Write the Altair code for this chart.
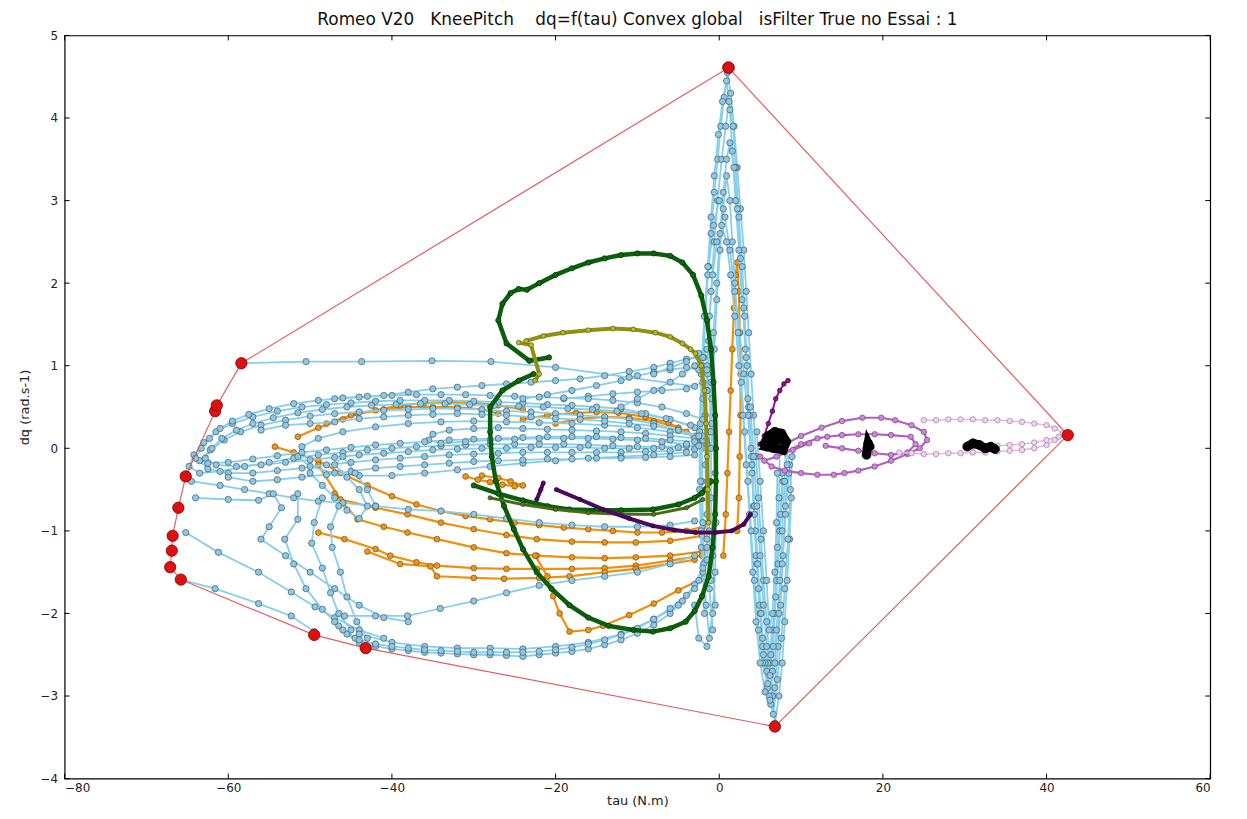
import altair as alt
import pandas as pd

# ---------------- data ----------------
x_ticks = [-80, -60, -40, -20, 0, 20, 40, 60]
y_ticks = [-4, -3, -2, -1, 0, 1, 2, 3, 4, 5]

# light blue trajectories: vertical spikes near tau = 0 .. 9
b1_t = [-1.2,-1.6,-1.9,-2.0,-2.1,-2.1,-2.0,-1.9,-1.7,-1.4,-1.0,-0.6,-0.2,0.2,0.6,1.0,1.4,1.8,2.2,2.6,3.0,3.3,3.6,3.9,4.2,4.5,4.8,5.1,5.4,5.8,6.2,6.5,6.8,7.3,7.7,8.0,8.3,8.6,8.8,8.6,8.0]
b1_d = [-2.3,-1.9,-1.4,-0.9,-0.4,0.1,0.6,1.1,1.6,2.1,2.6,3.1,3.5,3.9,4.25,4.55,4.3,3.9,3.4,2.9,2.4,1.9,1.4,0.9,0.4,-0.1,-0.6,-1.1,-1.6,-2.1,-2.6,-3.0,-3.33,-3.0,-2.6,-2.1,-1.6,-1.1,-0.6,-0.2,0.05]
b2_t = [-0.8,-1.2,-1.5,-1.6,-1.6,-1.5,-1.3,-1.0,-0.6,-0.2,0.3,0.8,1.2,1.7,2.0,2.4,2.8,3.1,3.4,3.7,4.0,4.3,4.6,5.0,5.4,5.9,6.3,6.8,7.2,7.5,7.8,8.1,8.3,7.6]
b2_d = [-2.2,-1.7,-1.1,-0.5,0.1,0.7,1.3,1.9,2.5,3.0,3.5,3.9,4.2,3.9,3.4,2.8,2.2,1.6,1.0,0.4,-0.2,-0.8,-1.4,-2.0,-2.5,-2.9,-3.1,-2.9,-2.4,-1.9,-1.3,-0.7,-0.2,0.1]
b3_t = [-1.0,-1.2,-1.3,-1.2,-1.0,-0.7,-0.3,0.1,0.5,0.9,1.3,1.8,2.2,2.6,3.0,3.3,3.6,3.9,4.2,4.5,4.9,5.3,5.8,6.3,6.8,7.2,7.5,7.7]
b3_d = [-1.6,-1.0,-0.4,0.2,0.8,1.4,2.0,2.6,3.1,3.5,3.7,3.4,2.9,2.3,1.7,1.1,0.5,-0.1,-0.7,-1.3,-1.9,-2.4,-2.7,-2.5,-2.0,-1.4,-0.8,-0.3]
b4_t = [-2.2,-2.4,-2.4,-2.2,-1.8,-1.3,-0.7,0.0,0.7,1.3,1.9,2.5,3.0,3.5,4.0,4.4,4.8,5.3,5.9,6.5,7.0,7.4,7.8]
b4_d = [-1.2,-0.5,0.2,0.9,1.6,2.2,2.7,3.0,2.8,2.4,1.9,1.4,0.9,0.4,-0.3,-1.0,-1.7,-2.3,-2.6,-2.2,-1.6,-1.0,-0.4]
b5_t = [-3.0,-2.5,-1.5,-0.8,-0.5,-0.4,-0.5,-0.9,-1.4]
b5_d = [-1.9,-2.3,-2.4,-2.0,-1.5,-0.9,-0.3,0.3,0.9]
b6_t = [-1.8,-2.0,-2.2,-2.3,-2.3,-2.1,-1.8,-1.4,-1.0,-0.6,-0.1,0.4,0.9,1.3,1.6,2.0,2.4,2.8,3.2,3.5,3.9,4.3,4.7,5.1,5.6,6.1,6.6,7.1,7.6,8.0,8.4,8.7,8.9]
b6_d = [-2.0,-1.5,-1.0,-0.4,0.3,1.0,1.6,2.2,2.8,3.3,3.8,4.2,4.45,4.1,3.6,3.0,2.4,1.8,1.2,0.6,0.0,-0.7,-1.4,-2.0,-2.6,-3.0,-3.22,-2.8,-2.3,-1.7,-1.1,-0.5,-0.1]
b7_t = [-0.5,-0.8,-1.0,-1.0,-0.9,-0.6,-0.3,0.1,0.5,0.9,1.3,1.6,1.9,2.3,2.7,3.1,3.5,3.9,4.3,4.8,5.3,5.9,6.5,7.0,7.4,7.7,8.0,8.2]
b7_d = [-1.9,-1.3,-0.6,0.0,0.6,1.2,1.8,2.4,2.9,3.3,3.0,2.5,2.0,1.4,0.8,0.2,-0.4,-1.0,-1.6,-2.2,-2.6,-2.85,-2.7,-2.2,-1.6,-1.0,-0.4,0.1]
b8_t = [-1.5,-1.7,-1.7,-1.5,-1.2,-0.8,-0.3,0.3,0.9,1.4,1.9,2.4,2.9,3.3,3.7,4.1,4.5,5.0,5.6,6.2,6.8,7.3,7.7,8.1,8.5]
b8_d = [-0.8,-0.2,0.4,1.0,1.6,2.1,2.5,2.7,2.5,2.1,1.6,1.0,0.4,-0.2,-0.8,-1.5,-2.1,-2.6,-2.95,-3.05,-2.6,-2.0,-1.4,-0.8,-0.3]
b9_t = [3.8,4.2,4.6,5.0,5.4,5.8,6.2,6.6,6.9,7.1,7.3,7.4]
b9_d = [0.5,-0.1,-0.7,-1.3,-1.9,-2.4,-2.75,-2.4,-1.8,-1.2,-0.6,0.0]
b10_t = [4.6,5.0,5.4,5.8,6.1,6.5,6.8,7.0,7.1]
b10_d = [0.2,-0.4,-1.0,-1.6,-2.2,-2.0,-1.5,-0.9,-0.3]

# light blue: large horizontal loops
h1_t = [-3,-6,-9,-12,-15,-18,-21,-24,-27,-30,-33,-36,-39,-42,-45,-48,-51,-54,-57,-59.5,-61.5,-63,-64.2,-64.8,-63.5,-61,-58,-55,-52,-49,-46,-43,-40,-37,-34,-31,-28,-25,-22,-19,-16,-13,-10,-7,-4,-1.5]
h1_d = [0.25,0.35,0.42,0.48,0.5,0.52,0.53,0.55,0.56,0.57,0.58,0.58,0.58,0.57,0.55,0.53,0.5,0.45,0.38,0.3,0.2,0.07,-0.08,-0.22,-0.3,-0.28,-0.22,-0.17,-0.12,-0.08,-0.05,-0.02,0.0,0.02,0.03,0.04,0.05,0.05,0.05,0.05,0.04,0.03,0.02,0.02,0.03,0.05]
h2_t = [-2,-5,-8,-11,-14,-17,-20,-23,-26,-29,-32,-35,-38,-41,-44,-47,-50,-53,-56,-58.5,-60.5,-62.2,-63.5,-62.5,-60,-57,-54,-51,-48,-45,-42,-39,-36,-33,-30,-27,-24,-21,-18,-15,-12,-9,-6,-3]
h2_d = [0.1,0.22,0.3,0.35,0.38,0.4,0.42,0.44,0.45,0.47,0.48,0.48,0.47,0.46,0.44,0.42,0.39,0.34,0.28,0.2,0.1,-0.02,-0.15,-0.25,-0.3,-0.3,-0.27,-0.24,-0.2,-0.17,-0.14,-0.12,-0.1,-0.08,-0.07,-0.06,-0.05,-0.05,-0.05,-0.05,-0.05,-0.04,-0.03,-0.01]
h3_t = [-2,-6,-10,-14,-18,-22,-26,-30,-34,-38,-42,-46,-49,-51,-51.5,-50,-47,-44,-40,-36,-32,-28,-24,-20,-16,-12,-8,-4]
h3_d = [0.15,0.2,0.25,0.28,0.3,0.31,0.32,0.33,0.32,0.3,0.26,0.2,0.12,0.02,-0.1,-0.22,-0.3,-0.33,-0.33,-0.3,-0.26,-0.22,-0.18,-0.15,-0.12,-0.1,-0.08,-0.05]
h4_t = [-3,-6,-9,-12,-15,-18,-21,-24,-27,-30,-33,-35,-35.5,-34,-31,-28,-25,-22,-19,-16,-13,-10,-7,-4]
h4_d = [0.12,0.15,0.18,0.2,0.21,0.22,0.23,0.24,0.25,0.24,0.22,0.17,0.1,0.06,0.08,0.1,0.11,0.12,0.12,0.12,0.11,0.1,0.08,0.05]
h5_t = [-47,-44,-41,-38,-35,-32,-29,-26,-23,-20,-17,-14,-11,-8,-6,-4,-2.5,-1.5,-1.5]
h5_d = [0.6,0.62,0.64,0.68,0.72,0.74,0.76,0.78,0.8,0.82,0.84,0.88,0.93,0.98,1.03,1.08,1.1,0.95,0.7]
h6_t = [-24,-21,-18,-15,-12,-10,-8,-6,-4,-2.5,-2,-4,-7,-10,-13,-16,-19]
h6_d = [0.6,0.65,0.7,0.76,0.82,0.88,0.92,0.95,0.98,0.95,0.8,0.72,0.7,0.68,0.66,0.63,0.6]
h7_t = [-58.4,-50.5,-43.7,-35.1,-27.9,-20,-11,-3]
h7_d = [1.03,1.05,1.05,1.06,1.05,0.98,0.86,0.75]
h8_t = [-2,-4,-7,-10,-13,-16,-19,-22,-25,-28,-31,-34,-37,-40,-43,-46,-49,-52,-55,-57.5,-59.5,-61,-62.3,-63.3,-64,-62.5,-60,-57,-54,-51,-48,-45,-42,-39,-36,-33,-30,-27,-24,-21,-18,-15,-12,-9,-6,-3]
h8_d = [0.35,0.42,0.5,0.55,0.58,0.6,0.61,0.62,0.63,0.64,0.65,0.65,0.65,0.64,0.63,0.61,0.58,0.54,0.48,0.41,0.33,0.24,0.12,0.0,-0.12,-0.18,-0.17,-0.13,-0.09,-0.05,-0.02,0.01,0.04,0.06,0.08,0.1,0.11,0.12,0.13,0.14,0.14,0.14,0.13,0.12,0.1,0.08]
h9_t = [-1,-3.5,-6.5,-9.5,-12.5,-15.5,-18.5,-21.5,-24.5,-27.5,-30.5,-33.5,-36.5,-39.5,-42.5,-45.5,-48.5,-51.5,-54.5,-57,-59,-60.8,-62,-62.8,-61.5,-59,-56,-53,-50,-47,-44,-41,-38,-35,-32,-29,-26,-23,-20,-17,-14,-11,-8,-5,-2.5]
h9_d = [0.2,0.28,0.36,0.42,0.45,0.47,0.48,0.5,0.51,0.52,0.53,0.54,0.54,0.53,0.52,0.5,0.47,0.43,0.37,0.3,0.22,0.12,0.0,-0.12,-0.2,-0.22,-0.2,-0.17,-0.14,-0.11,-0.08,-0.06,-0.04,-0.02,-0.01,0.0,0.0,0.01,0.01,0.01,0.0,0.0,0.0,0.01,0.03]
h10_t = [-60,-57,-54,-51,-48,-45,-42,-39,-36,-33,-30,-27,-24,-21,-18,-15,-12,-9,-6,-3]
h10_d = [-0.35,-0.4,-0.38,-0.35,-0.32,-0.28,-0.24,-0.22,-0.2,-0.18,-0.16,-0.15,-0.14,-0.13,-0.13,-0.12,-0.12,-0.11,-0.1,-0.08]
h11_t = [-56,-53,-50,-47,-44,-41,-38,-35,-32,-29,-26,-23,-20,-17,-14,-11,-8,-5,-2.5]
h11_d = [0.22,0.28,0.3,0.32,0.36,0.38,0.4,0.41,0.42,0.41,0.4,0.38,0.36,0.35,0.33,0.3,0.27,0.22,0.15]
h12_t = [-12,-10,-8,-6,-4.5,-3,-2,-1.5,-2.5,-4,-6,-8]
h12_d = [0.5,0.6,0.7,0.8,0.9,1.0,1.1,1.2,1.15,1.05,0.98,0.9]

# light blue: sparse lines and lower loops
s1_t = [-64.5,-61,-58,-55,-52,-49,-46,-42,-38,-34,-30,-26,-22,-18,-14,-10,-6,-3]
s1_d = [-0.4,-0.45,-0.5,-0.55,-0.6,-0.64,-0.66,-0.7,-0.74,-0.76,-0.8,-0.85,-0.9,-0.93,-0.95,-0.95,-0.93,-0.88]
s2_t = [-64,-60,-56.3,-54.5,-53.5,-55,-56,-53,-50,-47,-44,-41,-38]
s2_d = [-0.6,-0.62,-0.63,-0.55,-0.72,-0.95,-1.1,-1.3,-1.5,-1.7,-1.9,-2.05,-2.1]
s3_t = [-65.2,-61.2,-56.3,-52.3,-49.4,-47,-44,-41]
s3_d = [-1.02,-1.26,-1.5,-1.74,-1.92,-2.05,-2.2,-2.3]
s4_t = [-65.8,-61.6,-56.3,-52.3,-49.5]
s4_d = [-1.59,-1.7,-1.88,-2.03,-2.22]
s5_t = [-51.5,-51.5,-53.1,-52,-50.5,-48.5,-46.5,-44.5]
s5_d = [-0.55,-0.86,-1.1,-1.4,-1.7,-1.95,-2.15,-2.3]
s6_t = [-48.5,-49.5,-49.8,-48.5,-47.5,-46.5,-45]
s6_d = [-0.6,-0.9,-1.15,-1.45,-1.75,-2.0,-2.2]
s7_t = [-46.5,-47.5,-47.3,-46.3,-45.5,-44.3,-43]
s7_d = [-0.7,-0.95,-1.2,-1.5,-1.8,-2.1,-2.3]
bb1_t = [-47,-45.5,-44,-42,-40,-38,-36,-34,-32,-30,-28,-26,-24,-22,-20,-18,-16,-14,-12,-10,-8,-6,-4.5,-3,-2,-1.5]
bb1_d = [-2.1,-2.25,-2.35,-2.4,-2.43,-2.45,-2.47,-2.48,-2.49,-2.5,-2.5,-2.51,-2.52,-2.5,-2.48,-2.46,-2.43,-2.38,-2.32,-2.24,-2.14,-2.0,-1.85,-1.65,-1.45,-1.2]
bb2_t = [-44,-40,-36,-32,-28,-24,-20,-16,-12,-8,-5,-3]
bb2_d = [-2.25,-2.35,-2.4,-2.42,-2.42,-2.43,-2.4,-2.35,-2.25,-2.07,-1.9,-1.7]
bb3_t = [-45.8,-42,-38.1,-34.1,-30,-26,-22,-18,-14,-10,-6,-3]
bb3_d = [-2.03,-2.03,-2.03,-1.94,-1.85,-1.75,-1.66,-1.6,-1.55,-1.5,-1.4,-1.3]
bb4_t = [-46,-44,-42,-40,-38,-36,-34,-32,-30,-28,-26,-24,-22,-20,-18,-16,-14,-12,-10,-8,-6,-4,-2.5,-1.5]
bb4_d = [-2.2,-2.32,-2.37,-2.4,-2.42,-2.44,-2.45,-2.46,-2.47,-2.47,-2.47,-2.47,-2.46,-2.44,-2.41,-2.37,-2.32,-2.26,-2.18,-2.07,-1.94,-1.78,-1.6,-1.35]
bc_t = [-50,-48.5,-47,-45.5,-44,-43,-44,-45.5,-47,-46,-44.5,-43,-42]
bc_d = [-0.3,-0.45,-0.6,-0.75,-0.85,-0.7,-0.5,-0.35,-0.2,-0.1,-0.3,-0.5,-0.7]

# orange trajectories
o1_t = [-51.5,-49,-46,-44.2,-41,-38,-35,-32,-29,-27]
o1_d = [0.14,0.25,0.35,0.42,0.47,0.5,0.5,0.5,0.47,0.42]
o2_t = [-24,-21,-17.5,-15,-12.3,-9,-6.2,-4,-2.9,-2]
o2_d = [0.35,0.4,0.43,0.44,0.43,0.38,0.31,0.2,0.1,0.0]
o3_t = [-54.3,-52,-49,-46.3,-43,-40,-37,-34,-31,-28,-25,-22,-19,-16,-13,-10,-7,-4,-2]
o3_d = [0.02,-0.05,-0.15,-0.3,-0.45,-0.58,-0.68,-0.76,-0.82,-0.86,-0.9,-0.93,-0.96,-0.98,-1.0,-1.02,-1.02,-1.0,-0.95]
o4_t = [-49,-46.3,-42,-38.1,-34,-30,-26,-22.3,-18,-14,-10.2,-6,-2.1]
o4_d = [-0.2,-0.62,-0.72,-0.8,-0.9,-0.98,-1.05,-1.1,-1.13,-1.14,-1.14,-1.12,-1.06]
o5_t = [-47,-44.2,-41,-38.1,-34.5,-30,-26,-22.3,-18,-14,-10.2,-6,-2.1]
o5_d = [-0.55,-0.86,-0.95,-1.02,-1.1,-1.2,-1.27,-1.3,-1.32,-1.33,-1.32,-1.3,-1.25]
o6_t = [-49,-45.8,-42,-40.2,-37,-34.5,-30,-26,-22.3,-18,-14,-10.2,-6,-2.1]
o6_d = [-1.02,-1.1,-1.22,-1.3,-1.38,-1.42,-1.45,-1.46,-1.46,-1.46,-1.45,-1.42,-1.36,-1.3]
o7_t = [-43,-39,-35.3,-34.5,-30,-26.3,-22,-18.3,-14,-10.2,-6,-3]
o7_d = [-1.25,-1.4,-1.43,-1.55,-1.57,-1.58,-1.57,-1.55,-1.5,-1.46,-1.4,-1.35]
o8_t = [-31,-29.5,-28,-26.5,-25,-24,-25.5,-27,-29]
o8_d = [-0.34,-0.38,-0.41,-0.44,-0.46,-0.45,-0.4,-0.36,-0.33]
o9_t = [-22.5,-21,-20.3,-19.5,-18.3,-16,-14.2,-11,-8,-5,-2.1]
o9_d = [-1.3,-1.55,-1.79,-2.0,-2.22,-2.2,-2.15,-2.02,-1.88,-1.72,-1.58]
o10_t = [0.5,0.8,1.0,1.2,1.4,1.6,1.8,2.0,2.2,2.4,2.5,2.6,2.6,2.5,2.4,2.2]
o10_d = [-1.3,-0.8,-0.3,0.2,0.7,1.2,1.7,2.1,2.25,1.9,1.4,0.9,0.4,-0.1,-0.6,-1.0]
o11_t = [-48,-45,-42,-39,-36,-33,-30,-27,-24]
o11_d = [0.3,0.4,0.46,0.52,0.55,0.56,0.55,0.52,0.47]
o12_t = [-20,-17,-14,-11,-8,-5,-3]
o12_d = [0.3,0.36,0.38,0.37,0.33,0.25,0.15]

# dark green
g1_t = [-20.8,-23.2,-26,-27,-26.5,-25.5,-24.5,-23.5,-22,-20,-18,-16,-14,-12,-10,-8,-6,-4.5,-3.2,-2.2,-1.5,-1.0,-0.7,-0.5,-0.4,-0.4,-0.5,-0.8,-1.3,-2.1,-3,-4.1,-6,-8.1,-10.5,-13.5,-16,-18.3,-20.5,-22.3,-24,-25.1,-26.3,-27.3,-27.8,-28,-28,-26.5,-24.5,-22.7]
g1_d = [1.1,1.06,1.27,1.55,1.75,1.88,1.93,1.92,2.0,2.1,2.18,2.25,2.3,2.34,2.36,2.36,2.33,2.25,2.1,1.85,1.55,1.2,0.8,0.4,0.0,-0.4,-0.8,-1.2,-1.55,-1.79,-1.97,-2.1,-2.18,-2.22,-2.2,-2.15,-2.05,-1.9,-1.7,-1.5,-1.22,-0.98,-0.7,-0.4,-0.1,0.2,0.5,0.7,0.82,0.9]
g2_t = [-30,-27,-24,-21,-18.3,-15,-12,-8.1,-5,-3,-2.1,-1]
g2_d = [-0.45,-0.55,-0.63,-0.7,-0.74,-0.75,-0.75,-0.74,-0.68,-0.6,-0.54,-0.4]
g3_t = [-28,-24,-20,-16,-12,-8,-4,-2]
g3_d = [-0.6,-0.68,-0.74,-0.78,-0.8,-0.8,-0.72,-0.62]

# olive / yellow-green
l1_t = [-23.6,-21.5,-19.1,-16,-13,-10.5,-7.8,-6,-4.5,-3.5,-2.9,-2.2,-1.8,-1.6,-1.5,-1.4,-1.3]
l1_d = [1.3,1.36,1.4,1.43,1.45,1.44,1.4,1.35,1.27,1.2,1.15,1.0,0.7,0.3,-0.1,-0.5,-0.9]
l2_t = [-24.5,-23,-22,-22.5]
l2_d = [1.28,1.25,0.9,0.82]

# purple
p1_t = [-22.3,-21.8,-21.5]
p1_d = [-0.62,-0.5,-0.42]
p2_t = [-19.9,-17,-14.2,-11,-8.1,-5.5,-2.9,-0.5,1.5,3,3.8]
p2_d = [-0.5,-0.62,-0.74,-0.85,-0.94,-0.99,-1.02,-1.02,-1.0,-0.92,-0.8]
p3_t = [5.0,5.5,6.0,6.5,6.9,7.4,7.9,8.4]
p3_d = [0.05,0.15,0.3,0.45,0.6,0.7,0.78,0.82]

# orchid loops
c1_t = [5,6.4,8,10,12,14,15.3,17,19,21,23,24.5,25.4,25,23.5,21.5,19.8,17.5,15,12.5,10,8,6.5]
c1_d = [-0.1,-0.22,-0.27,-0.3,-0.32,-0.32,-0.3,-0.27,-0.22,-0.15,-0.07,0.0,0.1,0.2,0.28,0.34,0.37,0.37,0.33,0.25,0.15,0.05,-0.02]
c2_t = [8,10,12,13.2,15,17,19,21,23.4,24,23,21,19,17,15,13]
c2_d = [-0.05,0.05,0.12,0.14,0.16,0.17,0.17,0.16,0.14,0.05,-0.05,-0.08,-0.06,-0.03,0.0,0.03]
c3_t = [5.5,7,9,11]
c3_d = [-0.15,-0.1,-0.02,0.06]

# plum
m1_t = [25,26.5,28,29.5,31,32.5,34,35.5,37,38.5,40,41,42,41,40,38.5,37,35.5,34,32.5,31,29.5,28,26.5,25,23.5,22]
m1_d = [0.34,0.34,0.35,0.35,0.35,0.34,0.34,0.33,0.32,0.3,0.28,0.24,0.18,0.1,0.04,0.0,-0.02,-0.03,-0.04,-0.05,-0.05,-0.06,-0.06,-0.07,-0.07,-0.06,-0.05]
m2_t = [41.5,40,38.5,37,35.5,34,32.5,31]
m2_d = [0.14,0.1,0.07,0.05,0.04,0.03,0.02,0.02]

# black
k1_t = [5.5,6,6.8,7.6,8.2,7.8,6.8,5.8,6.5,7.2]
k1_d = [0.05,0.15,0.2,0.18,0.08,-0.02,0.0,0.02,0.1,0.1]
k2_t = [18.0,18.1,18.2,18.4]
k2_d = [-0.08,0.0,0.06,0.02]
k3_t = [30.3,31,31.8,32.5,33.2,33.7]
k3_d = [0.02,0.06,0.04,0.0,0.02,-0.01]

# convex hull
hull_t = [1.13,42.6,6.8,-43.2,-49.5,-65.8,-67.1,-66.9,-66.8,-66.1,-65.2,-61.6,-61.4,-58.4,1.13]
hull_d = [4.61,0.16,-3.37,-2.42,-2.26,-1.59,-1.44,-1.24,-1.06,-0.72,-0.34,0.45,0.52,1.03,4.61]

TITLE = "Romeo V20   KneePitch    dq=f(tau) Convex global   isFilter True no Essai : 1".replace(" ", "\u00a0")

# ---------------- build ----------------
XS = alt.Scale(domain=[-80, 60], nice=False, zero=False)
YS = alt.Scale(domain=[-4, 5], nice=False, zero=False)

def frame(trajs):
    rows = []
    for k, (ts, ds) in enumerate(trajs):
        for i, (t, d) in enumerate(zip(ts, ds)):
            rows.append({"traj": k, "i": i, "tau": t, "dq": d})
    return pd.DataFrame(rows)

def series(trajs, line_color, fill, edge, lw=1.5, size=30, sw=0.7, op=1.0):
    df = frame(trajs)
    base = alt.Chart(df).encode(
        x=alt.X("tau:Q", scale=XS),
        y=alt.Y("dq:Q", scale=YS),
    )
    ln = base.mark_line(color=line_color, strokeWidth=lw, opacity=op).encode(
        detail="traj:N", order="i:Q")
    pt = base.mark_point(shape="circle", filled=True, fill=fill, stroke=edge,
                         strokeWidth=sw, size=size, opacity=op)
    return [ln, pt]

layers = []
layers += series([(o1_t,o1_d),(o2_t,o2_d),(o3_t,o3_d),(o4_t,o4_d),(o5_t,o5_d),(o6_t,o6_d),
                  (o7_t,o7_d),(o8_t,o8_d),(o9_t,o9_d),(o10_t,o10_d),(o11_t,o11_d),(o12_t,o12_d)],
                 "#f0900c", "#e8961e", "#7a5010", lw=2.2, size=34)
layers += series([(b1_t,b1_d),(b2_t,b2_d),(b3_t,b3_d),(b4_t,b4_d),(b5_t,b5_d),(b6_t,b6_d),
                  (b7_t,b7_d),(b8_t,b8_d),(b9_t,b9_d),(b10_t,b10_d),
                  (h1_t,h1_d),(h2_t,h2_d),(h3_t,h3_d),(h4_t,h4_d),(h5_t,h5_d),(h6_t,h6_d),(h7_t,h7_d),
                  (h8_t,h8_d),(h9_t,h9_d),(h10_t,h10_d),(h11_t,h11_d),(h12_t,h12_d),
                  (s1_t,s1_d),(s2_t,s2_d),(s3_t,s3_d),(s4_t,s4_d),(s5_t,s5_d),(s6_t,s6_d),(s7_t,s7_d),
                  (bb1_t,bb1_d),(bb2_t,bb2_d),(bb3_t,bb3_d),(bb4_t,bb4_d),(bc_t,bc_d)],
                 "#87ceeb", "#8fc8e0", "#3c5a6a", lw=1.8, size=40)
layers += series([(g1_t,g1_d),(g2_t,g2_d)], "#0b5e0b", "#0b6a0b", "#033003", lw=4.5, size=28)
layers += series([(g3_t,g3_d)], "#4a6a1a", "#557a20", "#2a3a0a", lw=3, size=18)
layers += series([(l1_t,l1_d),(l2_t,l2_d)], "#8f9015", "#b8b828", "#5a5a08", lw=4, size=24)
layers += series([(p1_t,p1_d),(p2_t,p2_d)], "#4b0a5e", "#4b0a5e", "#2a0035", lw=4, size=18)
layers += series([(p3_t,p3_d)], "#8a1a8a", "#8a1a8a", "#400040", lw=2, size=22)
layers += series([(c1_t,c1_d),(c2_t,c2_d),(c3_t,c3_d)], "#b060c0", "#c88ad0", "#7a3a8a", lw=2.2, size=30)
layers += series([(m1_t,m1_d),(m2_t,m2_d)], "#e4b8e4", "#f0d4f0", "#a07aa0", lw=1.5, size=30)
layers += series([(k1_t,k1_d),(k2_t,k2_d),(k3_t,k3_d)], "#000000", "#000000", "#000000", lw=9, size=80)

hull_df = pd.DataFrame({"i": range(len(hull_t)), "tau": hull_t, "dq": hull_d})
hbase = alt.Chart(hull_df).encode(x=alt.X("tau:Q", scale=XS), y=alt.Y("dq:Q", scale=YS))
layers.append(hbase.mark_line(color="#e06060", strokeWidth=1.2).encode(order="i:Q"))
layers.append(hbase.mark_point(shape="circle", filled=True, fill="#dd1111", stroke="#7a0000",
                               strokeWidth=0.8, size=130, opacity=1))

# inward tick marks on all four sides
W, H = 1153, 748
xt = alt.Chart(pd.DataFrame({"tau": x_ticks})).encode(x=alt.X("tau:Q", scale=XS))
yt = alt.Chart(pd.DataFrame({"dq": y_ticks})).encode(y=alt.Y("dq:Q", scale=YS))
layers.append(xt.mark_rule(color="black").encode(y=alt.value(H), y2=alt.value(H - 5)))
layers.append(xt.mark_rule(color="black").encode(y=alt.value(0), y2=alt.value(5)))
layers.append(yt.mark_rule(color="black").encode(x=alt.value(0), x2=alt.value(5)))
layers.append(yt.mark_rule(color="black").encode(x=alt.value(W), x2=alt.value(W - 5)))

chart = alt.layer(*layers).encode(
    x=alt.X("tau:Q", scale=XS,
            axis=alt.Axis(values=x_ticks, format="d", title="tau (N.m)", grid=False,
                          domain=False, tickSize=0, labelPadding=4, titlePadding=1)),
    y=alt.Y("dq:Q", scale=YS,
            axis=alt.Axis(values=y_ticks, format="d", title="dq (rad.s-1)", grid=False,
                          domain=False, tickSize=0, labelPadding=7, titlePadding=9)),
).properties(
    width=W, height=H,
    autosize="none",
    padding={"left": 57, "top": 25, "right": 29, "bottom": 30},
    title=alt.TitleParams(
        TITLE, font="DejaVu Sans", fontSize=17, fontWeight="normal", color="#111",
        anchor="middle", offset=1),
).configure_view(stroke="black", strokeWidth=1.2
).configure_axis(labelFont="DejaVu Sans", labelFontSize=12, labelColor="#222",
                 titleFont="DejaVu Sans", titleFontSize=13, titleFontWeight="normal",
                 titleColor="#222")

chart.save("out.html", embed_options={"renderer": "svg", "actions": False})
